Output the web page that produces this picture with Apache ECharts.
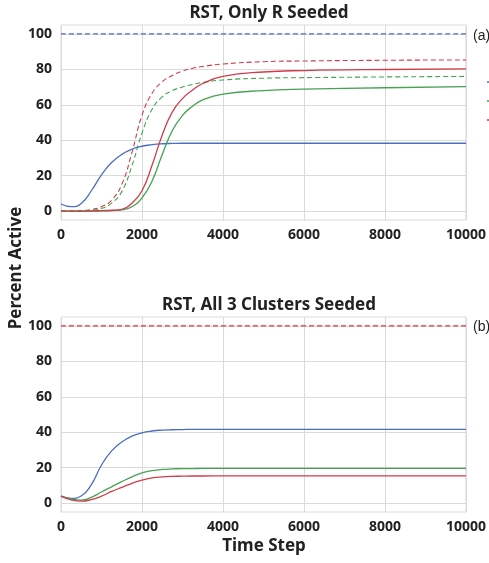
<!DOCTYPE html>
<html lang="en">
<head>
	<meta charset="UTF-8">
	<title>RST seeding</title>
	<style>
		html, body { margin: 0; padding: 0; background: #fff; }
		#main { width: 489px; height: 563px; }
	</style>
</head>
<body>
	<div id="main"></div>
	<script src="https://cdn.jsdelivr.net/npm/echarts@6/dist/echarts.min.js"></script>
	<script>
		// time steps shared by every curve
		var timeSteps = [0, 250, 500, 750, 1000, 1250, 1500, 1750, 2000, 2250, 2500, 2750, 3000, 3250, 3500, 4000, 5000, 6000, 8000, 10000];
		var yTicks = [0, 20, 40, 60, 80, 100];

		// (a) only R seeded
		var topBlueSolid  = [4, 2.5, 4.3, 11.5, 20.5, 27.4, 32, 34.9, 36.6, 37.5, 38, 38.2, 38.3, 38.3, 38.3, 38.3, 38.3, 38.3, 38.3, 38.3];
		var topBlueDash   = [100, 100, 100, 100, 100, 100, 100, 100, 100, 100, 100, 100, 100, 100, 100, 100, 100, 100, 100, 100];
		var topRedDash    = [0, 0.1, 0.3, 1, 2.5, 6.2, 15, 33, 54, 66.5, 73, 76.5, 79, 80.6, 81.6, 83, 84.3, 84.7, 85.1, 85.3];
		var topGreenDash  = [0, 0, 0.2, 0.6, 1.5, 4.5, 11, 25.5, 44, 57.5, 64.5, 68, 70, 71.5, 72.6, 74, 75, 75.3, 75.7, 76];
		var topRedSolid   = [0, 0, 0, 0.1, 0.3, 0.5, 1, 4.5, 11.5, 26, 43, 56, 63.5, 68.3, 72, 76, 78.5, 79.3, 79.9, 80.2];
		var topGreenSolid = [0, 0, 0, 0, 0.1, 0.3, 0.7, 2.5, 7.5, 17, 32, 45.5, 54, 59.2, 62.8, 66, 68, 68.8, 69.6, 70.2];

		// (b) all 3 clusters seeded
		var botRedDash    = [100, 100, 100, 100, 100, 100, 100, 100, 100, 100, 100, 100, 100, 100, 100, 100, 100, 100, 100, 100];
		var botBlue       = [4, 2.7, 4, 10.5, 21.5, 29.5, 34.5, 37.8, 39.7, 40.7, 41.2, 41.4, 41.5, 41.6, 41.6, 41.6, 41.6, 41.6, 41.6, 41.6];
		var botGreen      = [4, 2.4, 1.7, 3.3, 6.3, 9.2, 12.1, 14.8, 17.1, 18.3, 19, 19.3, 19.5, 19.5, 19.6, 19.6, 19.6, 19.6, 19.6, 19.6];
		var botRed        = [4, 1.9, 1.1, 2, 3.9, 6.6, 8.9, 11.2, 13, 14.2, 14.8, 15.1, 15.2, 15.3, 15.3, 15.4, 15.4, 15.4, 15.4, 15.4];

		var BLUE = '#4a6fbf', RED = '#cf3d4a', GREEN = '#45a352';
		var FONT = '"Noto Sans", sans-serif';

		function pairs(vals) {
			var out = [];
			for (var i = 0; i < timeSteps.length; i++) out.push([timeSteps[i], vals[i]]);
			return out;
		}
		function line(name, vals, color, idx, dashed) {
			return {
				name: name, type: 'line', xAxisIndex: idx, yAxisIndex: idx,
				data: pairs(vals), smooth: 0.5,
				showSymbol: false, symbol: 'none', silent: true,
				lineStyle: { color: color, width: dashed ? 1.1 : 1.3, type: dashed ? [5, 3] : 'solid' },
				itemStyle: { color: color }
			};
		}
		function xAx(idx) {
			return {
				type: 'value', gridIndex: idx, min: 0, max: 10000, interval: 2000,
				axisLine: { show: false }, axisTick: { show: false },
				axisLabel: { color: '#222', fontFamily: FONT, fontWeight: 'bold', fontSize: 14, margin: 8,
					formatter: function (v) { return String(v); } },
				splitLine: { show: true, lineStyle: { color: '#dadada', width: 1 } }
			};
		}
		function yAx(idx) {
			return {
				type: 'value', gridIndex: idx, min: -5, max: 105,
				axisLine: { show: false },
				axisTick: { show: false, customValues: yTicks },
				axisLabel: { customValues: yTicks, color: '#222', fontFamily: FONT, fontWeight: 'bold', fontSize: 14, margin: 9 },
				splitLine: { show: true, lineStyle: { color: '#dadada', width: 1 } }
			};
		}

		var myChart = echarts.init(document.getElementById('main'));
		var option = {
			animation: false,
			backgroundColor: '#fff',
			title: [
				{ text: 'RST, Only R Seeded', left: 264, top: 0, textAlign: 'center',
				  textStyle: { fontFamily: FONT, fontWeight: 'bold', fontSize: 17, color: '#222' } },
				{ text: 'RST, All 3 Clusters Seeded', left: 264, top: 292, textAlign: 'center',
				  textStyle: { fontFamily: FONT, fontWeight: 'bold', fontSize: 17, color: '#222' } }
			],
			grid: [
				{ left: 61, top: 25, width: 406, height: 195, show: true, borderColor: '#dadada', borderWidth: 1 },
				{ left: 61, top: 317, width: 406, height: 195, show: true, borderColor: '#dadada', borderWidth: 1 }
			],
			legend: {
				left: 487, top: 77, orient: 'vertical', itemGap: 9, itemWidth: 2, itemHeight: 1.5,
				padding: 0, icon: 'rect', data: ['blue', 'green', 'red'],
				textStyle: { fontSize: 10, color: '#fff' }
			},
			xAxis: [xAx(0), xAx(1)],
			yAxis: [yAx(0), yAx(1)],
			graphic: [
				{ type: 'text', left: 473, top: 29, style: { text: '(a)', font: '14px "Liberation Sans", sans-serif', fill: '#222' } },
				{ type: 'text', left: 473, top: 320, style: { text: '(b)', font: '14px "Liberation Sans", sans-serif', fill: '#222' } },
				{ type: 'text', x: 8, y: 268, rotation: Math.PI / 2,
				  style: { text: 'Percent Active', font: 'bold 17px ' + FONT, fill: '#222', align: 'center', verticalAlign: 'top' } },
				{ type: 'text', x: 264, y: 538, style: { text: 'Time Step', font: 'bold 17px ' + FONT, fill: '#222', align: 'center', verticalAlign: 'top' } }
			],
			series: [
				line('blueDash', topBlueDash, BLUE, 0, true),
				line('redDash', topRedDash, RED, 0, true),
				line('greenDash', topGreenDash, GREEN, 0, true),
				line('blue', topBlueSolid, BLUE, 0, false),
				line('green', topGreenSolid, GREEN, 0, false),
				line('red', topRedSolid, RED, 0, false),
				line('redDashB', botRedDash, '#e0303f', 1, true),
				line('blueB', botBlue, BLUE, 1, false),
				line('greenB', botGreen, GREEN, 1, false),
				line('redB', botRed, RED, 1, false)
			]
		};
		myChart.setOption(option);
	</script>
</body>
</html>
